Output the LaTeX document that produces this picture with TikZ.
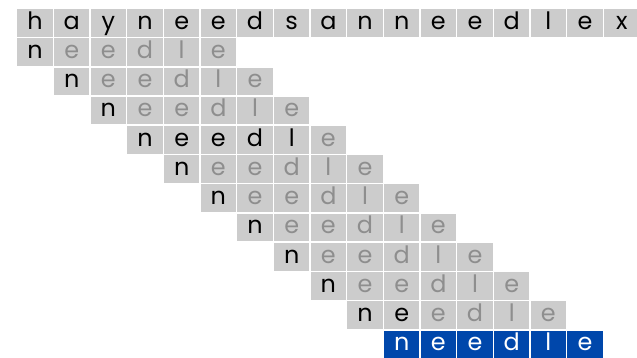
\documentclass[tikz,border=0pt]{standalone}
\usepackage{fontspec}
\setmainfont{Poppins}
\usepackage{tikz}
\usetikzlibrary{positioning}
\definecolor{cellgray}{HTML}{CCCCCC}
\definecolor{dimtext}{HTML}{8E8E8E}
\definecolor{matchblue}{HTML}{0047AB}
\tikzset{
  cell/.style={
    rectangle,
    minimum width=0.8825cm,
    minimum height=0.69cm,
    inner sep=0pt,
    text height=0.32cm,
    text depth=0cm,
    fill=cellgray,
    text=black,
    font=\fontsize{17}{20}\selectfont
  },
  dim/.style={text=dimtext},
  found/.style={fill=matchblue, text=white},
  cmp/.code={\ifnum#1<\nblack\relax\else\pgfkeysalso{/tikz/dim}\fi}
}

\begin{document}
\begin{tikzpicture}[x=0.025cm, y=-0.025cm]
\useasboundingbox (0,0) rectangle (637,357);

% Text row
\foreach \ch [count=\i from 0] in {h,a,y,n,e,e,d,s,a,n,n,e,e,d,l,e,x}
  \node (t\i) [cell] at ({35+36.67*\i}, 22.85) {\ch};

% Pattern rows (row / number of compared chars)
\foreach \r/\nblack in {1/1,2/1,3/1,4/5,5/1,6/1,7/1,8/1,9/1,10/2}
  \foreach \ch [count=\j from 0] in {n,e,e,d,l,e}
    \node (p\r-\j) [cell, cmp=\j] at ({35+36.67*(\r-1+\j)}, {22.85+29.24*\r}) {\ch};

% Match
\foreach \ch [count=\j from 0] in {n,e,e,d,l,e}
  \node (m\j) [cell, found] at ({35+36.67*(10+\j)}, {22.85+29.24*11}) {\ch};
\end{tikzpicture}
\end{document}
